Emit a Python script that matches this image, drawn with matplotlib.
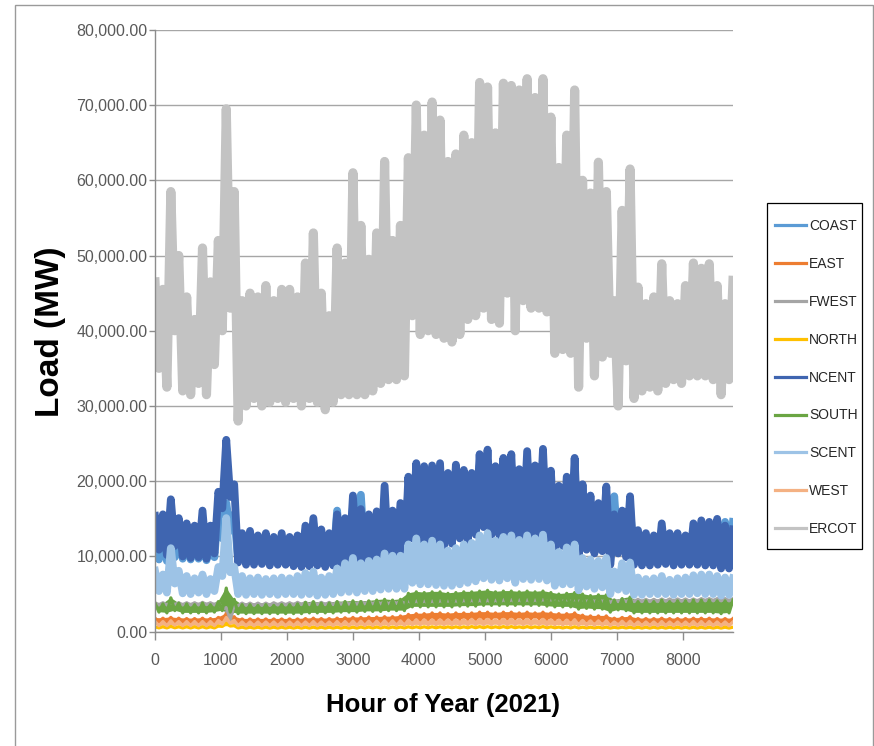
import numpy as np
import matplotlib
matplotlib.use("Agg")
import matplotlib.pyplot as plt
from matplotlib.lines import Line2D
from matplotlib.patches import Rectangle
from matplotlib.ticker import FuncFormatter

# Hourly zone loads are drawn as an envelope trace: daily peaks on the
# 120 h marks, overnight troughs halfway between.  Values in 1000 MW.
peak_hours = np.arange(0, 8761, 120)
trough_hours = np.arange(60, 8701, 120)

zones = ["COAST", "EAST", "FWEST", "NORTH", "NCENT", "SOUTH", "SCENT", "WEST", "ERCOT"]

coast_peaks = [14.1, 14.6, 16.1, 13.6, 13.1, 12.6, 14.6, 13.1, 16.6, 17.1,
               15.6, 12.1, 12.4, 12.0, 12.1, 11.8, 12.1, 12.0, 11.9, 13.1,
               14.4, 12.6, 12.4, 16.1, 14.6, 16.6, 18.2, 14.6, 15.1, 17.6,
               15.1, 16.1, 19.1, 20.6, 20.6, 20.6, 21.1, 19.6, 20.6, 20.1,
               19.6, 22.1, 22.6, 20.6, 21.6, 22.1, 20.1, 22.6, 20.6, 22.6,
               20.1, 18.1, 19.1, 21.1, 18.4, 16.6, 16.1, 18.1, 18.0, 15.1,
               16.6, 12.6, 12.1, 12.0, 13.4, 12.4, 12.4, 12.1, 13.6, 14.1,
               14.1, 14.6, 14.6, 14.6]
coast_troughs = [9.6, 9.4, 9.9, 9.7, 9.6, 9.7, 9.5, 9.9, 12.4, 13.4,
                 9.4, 9.3, 9.3, 9.4, 9.2, 9.3, 9.0, 9.1, 9.0, 9.1,
                 9.2, 9.0, 9.2, 9.4, 9.4, 9.3, 9.5, 9.4, 9.6, 9.6,
                 9.7, 9.6, 12.6, 12.3, 12.3, 12.1, 11.8, 12.1, 12.8, 12.4,
                 13.3, 14.3, 13.3, 13.2, 13.6, 12.3, 13.2, 13.0, 13.4, 12.3,
                 11.3, 11.8, 12.1, 10.3, 11.3, 10.8, 11.1, 9.3, 10.8, 10.3,
                 9.3, 9.2, 9.2, 9.3, 9.4, 9.2, 9.3, 9.3, 9.3, 9.2,
                 9.2, 8.8, 8.8]

east_peaks = [1.8, 1.8, 1.9, 1.8, 1.75, 1.75, 1.8, 1.75, 1.9, 2.4,
              2.0, 1.7, 1.7, 1.7, 1.7, 1.7, 1.7, 1.7, 1.7, 1.75,
              1.8, 1.75, 1.75, 1.8, 1.85, 1.9, 1.9, 1.95, 1.95, 2.0,
              2.0, 2.1, 2.3, 2.4, 2.4, 2.5, 2.5, 2.4, 2.5, 2.5,
              2.5, 2.6, 2.6, 2.5, 2.6, 2.6, 2.5, 2.6, 2.5, 2.6,
              2.5, 2.4, 2.4, 2.5, 2.2, 2.1, 2.1, 2.1, 1.8, 1.9,
              2.0, 1.75, 1.75, 1.75, 1.8, 1.75, 1.75, 1.75, 1.8, 1.8,
              1.8, 1.75, 1.75, 1.75]
east_troughs = [1.3, 1.3, 1.35, 1.3, 1.3, 1.3, 1.3, 1.3, 1.6, 1.7,
                1.25, 1.25, 1.25, 1.25, 1.25, 1.25, 1.25, 1.25, 1.25, 1.25,
                1.25, 1.25, 1.25, 1.3, 1.3, 1.3, 1.3, 1.3, 1.35, 1.35,
                1.35, 1.4, 1.6, 1.6, 1.65, 1.65, 1.65, 1.65, 1.7, 1.7,
                1.7, 1.75, 1.75, 1.75, 1.75, 1.75, 1.75, 1.75, 1.75, 1.7,
                1.65, 1.6, 1.6, 1.5, 1.5, 1.45, 1.45, 1.3, 1.4, 1.4,
                1.3, 1.3, 1.3, 1.3, 1.3, 1.3, 1.3, 1.3, 1.3, 1.3,
                1.3, 1.3, 1.3]

fwest_peaks = [3.85, 3.85, 3.9, 3.85, 3.85, 3.85, 3.9, 3.85, 3.9, 3.2,
               3.5, 3.8, 3.8, 3.8, 3.8, 3.85, 3.85, 3.85, 3.9, 3.9,
               3.9, 3.9, 3.9, 3.95, 3.95, 3.95, 4.0, 4.0, 4.0, 4.0,
               4.05, 4.05, 4.1, 4.1, 4.1, 4.1, 4.15, 4.15, 4.15, 4.2,
               4.2, 4.2, 4.2, 4.2, 4.25, 4.25, 4.25, 4.25, 4.25, 4.3,
               4.3, 4.3, 4.3, 4.3, 4.3, 4.3, 4.3, 4.3, 4.2, 4.3,
               4.3, 4.3, 4.3, 4.3, 4.35, 4.35, 4.35, 4.35, 4.35, 4.4,
               4.4, 4.4, 4.4, 4.4]
fwest_troughs = [3.55, 3.55, 3.6, 3.55, 3.55, 3.55, 3.6, 3.55, 3.0, 1.6,
                 3.45, 3.5, 3.5, 3.5, 3.5, 3.55, 3.55, 3.55, 3.6, 3.6,
                 3.6, 3.6, 3.6, 3.65, 3.65, 3.65, 3.7, 3.7, 3.7, 3.7,
                 3.75, 3.75, 3.8, 3.8, 3.8, 3.8, 3.85, 3.85, 3.85, 3.9,
                 3.9, 3.9, 3.9, 3.9, 3.95, 3.95, 3.95, 3.95, 3.95, 4.0,
                 4.0, 4.0, 4.0, 4.0, 4.0, 4.0, 4.0, 3.9, 4.0, 4.0,
                 4.0, 4.0, 4.0, 4.0, 4.05, 4.05, 4.05, 4.05, 4.05, 4.1,
                 4.1, 4.1, 4.1]

north_peaks = [0.65, 0.65, 0.7, 0.65, 0.65, 0.65, 0.65, 0.65, 0.75, 1.1,
               0.8, 0.6, 0.6, 0.6, 0.6, 0.6, 0.6, 0.6, 0.6, 0.6,
               0.6, 0.6, 0.6, 0.6, 0.6, 0.6, 0.62, 0.62, 0.62, 0.62,
               0.62, 0.62, 0.65, 0.65, 0.65, 0.65, 0.65, 0.65, 0.65, 0.65,
               0.68, 0.68, 0.68, 0.65, 0.68, 0.68, 0.65, 0.68, 0.65, 0.68,
               0.65, 0.62, 0.62, 0.65, 0.6, 0.6, 0.6, 0.6, 0.58, 0.6,
               0.6, 0.6, 0.6, 0.6, 0.6, 0.6, 0.6, 0.6, 0.6, 0.6,
               0.6, 0.6, 0.6, 0.6]
north_troughs = [0.5, 0.5, 0.52, 0.5, 0.5, 0.5, 0.5, 0.5, 0.7, 0.75,
                 0.5, 0.48, 0.48, 0.48, 0.48, 0.48, 0.48, 0.48, 0.48, 0.48,
                 0.48, 0.48, 0.48, 0.48, 0.48, 0.48, 0.5, 0.5, 0.5, 0.5,
                 0.5, 0.5, 0.52, 0.52, 0.52, 0.52, 0.52, 0.52, 0.52, 0.52,
                 0.53, 0.53, 0.53, 0.53, 0.53, 0.53, 0.53, 0.53, 0.53, 0.52,
                 0.52, 0.5, 0.5, 0.5, 0.5, 0.5, 0.5, 0.48, 0.5, 0.5,
                 0.48, 0.48, 0.48, 0.48, 0.48, 0.48, 0.48, 0.48, 0.48, 0.48,
                 0.48, 0.48, 0.48]

ncent_peaks = [15.4, 15.6, 17.6, 15.1, 14.4, 14.1, 16.1, 14.1, 18.6, 25.5,
               19.6, 13.1, 13.4, 12.8, 13.1, 12.6, 13.1, 12.6, 12.8, 14.1,
               15.1, 13.6, 13.1, 15.6, 15.1, 18.1, 16.3, 15.6, 16.0, 19.4,
               16.1, 17.1, 20.6, 22.4, 22.0, 22.1, 22.4, 21.1, 22.2, 21.5,
               21.1, 23.6, 24.2, 22.0, 23.1, 23.6, 21.6, 24.0, 22.1, 24.3,
               21.4, 19.4, 20.6, 23.1, 19.6, 18.1, 17.1, 19.3, 15.6, 16.1,
               18.0, 13.5, 13.1, 12.8, 14.4, 13.1, 13.1, 12.8, 14.4, 14.8,
               14.6, 15.0, 14.1, 13.6]
ncent_troughs = [10.9, 10.2, 11.4, 10.0, 9.8, 9.9, 9.7, 10.4, 16.4, 17.9,
                 9.2, 8.9, 8.9, 9.0, 8.8, 8.9, 8.9, 8.7, 8.6, 8.7,
                 8.8, 8.6, 8.8, 9.0, 9.0, 8.9, 9.1, 9.0, 9.2, 9.2,
                 9.3, 9.2, 12.4, 11.9, 11.9, 11.7, 11.4, 11.7, 12.4, 12.0,
                 12.9, 13.9, 12.9, 12.8, 13.2, 11.9, 12.8, 12.6, 13.0, 11.9,
                 10.9, 11.4, 11.7, 9.9, 10.9, 10.4, 10.7, 8.9, 10.4, 9.9,
                 8.9, 8.8, 8.8, 8.9, 9.0, 8.8, 8.9, 8.9, 8.9, 8.8,
                 8.8, 8.4, 8.4]

south_peaks = [3.8, 3.7, 4.5, 3.8, 3.7, 3.6, 3.8, 3.6, 4.0, 5.8,
               4.3, 3.6, 3.6, 3.5, 3.6, 3.5, 3.6, 3.6, 3.7, 3.9,
               4.0, 3.8, 3.8, 4.0, 4.0, 4.1, 4.0, 4.1, 4.2, 4.3,
               4.2, 4.3, 5.1, 5.3, 5.2, 5.3, 5.3, 5.1, 5.2, 5.3,
               5.3, 5.4, 5.5, 5.3, 5.4, 5.4, 5.3, 5.4, 5.3, 5.4,
               5.2, 5.0, 5.1, 5.2, 5.0, 4.8, 4.9, 4.9, 4.2, 4.4,
               4.6, 4.0, 4.1, 4.0, 4.2, 4.0, 4.1, 4.1, 4.2, 4.2,
               4.2, 4.1, 4.1, 4.2]
south_troughs = [2.6, 2.5, 2.8, 2.5, 2.5, 2.5, 2.5, 2.6, 2.8, 2.6,
                 2.4, 2.4, 2.4, 2.4, 2.4, 2.4, 2.4, 2.4, 2.4, 2.5,
                 2.5, 2.5, 2.5, 2.6, 2.6, 2.6, 2.7, 2.7, 2.7, 2.8,
                 2.8, 2.8, 3.3, 3.3, 3.3, 3.3, 3.3, 3.3, 3.4, 3.4,
                 3.4, 3.5, 3.5, 3.5, 3.5, 3.5, 3.5, 3.5, 3.5, 3.4,
                 3.3, 3.3, 3.3, 3.0, 3.1, 3.0, 3.0, 2.6, 2.9, 2.8,
                 2.5, 2.5, 2.5, 2.5, 2.5, 2.5, 2.5, 2.5, 2.5, 2.5,
                 2.5, 2.4, 2.5]

scent_peaks = [8.1, 7.6, 11.1, 8.1, 7.4, 7.1, 7.6, 7.0, 8.6, 15.1,
               8.6, 7.4, 7.1, 7.2, 7.0, 7.1, 7.2, 7.1, 7.4, 7.8,
               8.0, 7.2, 7.4, 8.4, 9.1, 9.8, 9.1, 9.4, 9.6, 10.4,
               10.1, 10.1, 11.6, 12.4, 11.6, 12.1, 11.6, 10.8, 11.1, 11.6,
               11.8, 12.8, 13.1, 12.1, 12.6, 12.8, 12.2, 12.8, 12.4, 12.9,
               11.6, 10.6, 11.2, 11.6, 9.8, 9.6, 9.4, 9.8, 8.0, 9.1,
               9.2, 7.2, 7.0, 7.1, 7.4, 6.9, 7.1, 7.2, 7.5, 7.6,
               7.6, 7.4, 7.2, 7.1]
scent_troughs = [5.4, 5.2, 6.4, 5.1, 5.0, 5.2, 5.0, 5.4, 7.4, 7.9,
                 5.0, 4.9, 5.0, 4.9, 5.0, 4.9, 5.0, 5.0, 4.9, 5.0,
                 4.8, 4.9, 5.0, 5.2, 5.3, 5.2, 5.4, 5.4, 5.6, 5.7,
                 5.7, 5.7, 6.5, 6.3, 6.3, 6.2, 6.1, 6.1, 6.3, 6.5,
                 6.7, 7.1, 6.9, 6.8, 7.1, 6.5, 7.0, 6.9, 7.0, 6.8,
                 6.1, 6.3, 6.3, 5.5, 6.0, 5.7, 5.9, 5.0, 5.6, 5.4,
                 4.9, 4.9, 5.0, 5.0, 5.0, 4.9, 5.0, 5.0, 5.1, 5.0,
                 5.0, 4.8, 4.9]

west_peaks = [1.35, 1.35, 1.45, 1.35, 1.35, 1.35, 1.35, 1.35, 1.5, 1.9,
              1.5, 1.3, 1.3, 1.3, 1.3, 1.3, 1.3, 1.3, 1.3, 1.3,
              1.35, 1.3, 1.3, 1.35, 1.35, 1.4, 1.4, 1.4, 1.4, 1.45,
              1.45, 1.45, 1.55, 1.6, 1.6, 1.6, 1.6, 1.6, 1.6, 1.6,
              1.65, 1.65, 1.65, 1.6, 1.65, 1.65, 1.6, 1.65, 1.6, 1.65,
              1.6, 1.55, 1.55, 1.6, 1.5, 1.45, 1.45, 1.45, 1.3, 1.4,
              1.4, 1.3, 1.3, 1.3, 1.35, 1.3, 1.3, 1.3, 1.35, 1.35,
              1.35, 1.3, 1.3, 1.3]
west_troughs = [0.8, 0.8, 0.85, 0.8, 0.8, 0.8, 0.8, 0.8, 1.0, 1.1,
                0.8, 0.78, 0.78, 0.78, 0.78, 0.78, 0.78, 0.78, 0.78, 0.8,
                0.8, 0.8, 0.8, 0.8, 0.8, 0.82, 0.82, 0.82, 0.82, 0.85,
                0.85, 0.85, 0.9, 0.9, 0.9, 0.9, 0.9, 0.9, 0.9, 0.92,
                0.92, 0.92, 0.92, 0.92, 0.92, 0.92, 0.92, 0.92, 0.92, 0.9,
                0.9, 0.88, 0.88, 0.85, 0.85, 0.85, 0.85, 0.8, 0.82, 0.82,
                0.8, 0.8, 0.8, 0.8, 0.8, 0.8, 0.8, 0.8, 0.8, 0.8,
                0.8, 0.78, 0.78]

ercot_peaks = [46.5, 45.5, 58.5, 50.0, 44.5, 41.5, 51.0, 46.5, 52.0, 69.5,
               58.5, 44.0, 45.0, 44.5, 46.0, 44.0, 45.5, 45.5, 44.5, 49.0,
               53.0, 45.0, 42.0, 51.0, 49.0, 61.0, 54.0, 49.5, 53.0, 62.5,
               52.0, 54.0, 63.0, 70.0, 66.0, 70.4, 68.0, 62.5, 63.5, 66.0,
               65.0, 73.0, 72.4, 66.3, 72.9, 72.6, 72.0, 73.5, 71.0, 73.5,
               68.4, 61.7, 66.0, 72.0, 60.0, 58.3, 62.4, 58.5, 44.0, 56.0,
               61.5, 45.8, 43.6, 44.5, 48.9, 44.0, 43.6, 46.0, 49.0, 48.3,
               48.9, 46.0, 43.6, 46.7]
ercot_troughs = [35.0, 32.5, 40.0, 32.0, 31.5, 33.0, 31.5, 35.5, 40.0, 43.0,
                 28.0, 30.0, 31.0, 30.0, 30.5, 31.0, 30.5, 31.0, 30.0, 31.0,
                 30.5, 29.5, 30.5, 31.5, 31.5, 31.5, 31.5, 32.0, 33.0, 33.5,
                 33.5, 34.0, 42.0, 39.5, 40.0, 39.5, 39.0, 38.5, 39.5, 41.5,
                 42.0, 43.0, 41.5, 41.0, 45.0, 40.0, 44.0, 43.0, 43.0, 42.5,
                 37.0, 37.5, 37.0, 32.5, 39.0, 34.0, 36.5, 37.0, 30.0, 36.0,
                 31.0, 32.0, 32.5, 32.0, 33.0, 33.5, 33.0, 34.0, 34.0, 34.0,
                 33.5, 31.5, 33.5]

# colour and trace width (pt) per zone
series = {
    "COAST": (coast_peaks, coast_troughs, "#5B9BD5", 5.6),
    "EAST": (east_peaks, east_troughs, "#ED7D31", 2.3),
    "FWEST": (fwest_peaks, fwest_troughs, "#A5A5A5", 2.3),
    "NORTH": (north_peaks, north_troughs, "#FFC000", 2.3),
    "NCENT": (ncent_peaks, ncent_troughs, "#3F65B0", 5.6),
    "SOUTH": (south_peaks, south_troughs, "#6AA543", 2.3),
    "SCENT": (scent_peaks, scent_troughs, "#9DC3E6", 5.6),
    "WEST": (west_peaks, west_troughs, "#F4B183", 2.3),
    "ERCOT": (ercot_peaks, ercot_troughs, "#C3C3C3", 6.6),
}


def trace(peaks, troughs):
    """Interleave peaks and troughs into one hour-ordered line."""
    x = np.empty(len(peak_hours) + len(trough_hours))
    y = np.empty_like(x)
    x[0::2], x[1::2] = peak_hours, trough_hours
    y[0::2], y[1::2] = peaks, troughs
    return x, y * 1000.0


def band(peaks, troughs):
    """Outline running along the peaks and back along the troughs."""
    x = np.concatenate([peak_hours, trough_hours[::-1]])
    y = np.concatenate([peaks, troughs[::-1]]) * 1000.0
    return x, y


sans = ["Liberation Sans", "DejaVu Sans"]
tick_grey = "#595959"
axis_grey = "#8C8C8C"

W, H = 874, 746
fig = plt.figure(figsize=(W / 100, H / 100), dpi=100)
fig.patch.set_facecolor("white")


def px_box(x0, y0, x1, y1, **kw):
    """Rectangle given in pixels from the top-left corner of the figure."""
    return Rectangle((x0 / W, 1 - y1 / H), (x1 - x0) / W, (y1 - y0) / H,
                     transform=fig.transFigure, fill=False, **kw)


# chart-area frame and legend frame
fig.add_artist(px_box(15, 5, 873, 760, edgecolor="#9A9A9A", linewidth=1.0))
fig.add_artist(px_box(767, 203, 862, 549, edgecolor="black", linewidth=0.9))

ax = fig.add_axes([155 / W, 1 - 631.7 / H, (733 - 155) / W, (631.7 - 29.8) / H])

handles = []
for name in zones:
    peaks, troughs, color, lw = series[name]
    x, y = trace(peaks, troughs)
    if lw < 3:
        # narrow zones: fill the daily swing so the band reads solid
        bx, by = band(np.asarray(peaks), np.asarray(troughs))
        ax.fill(bx, by, color=color, linewidth=0)
    ax.plot(x, y, color=color, linewidth=lw, solid_joinstyle="round")
    handles.append(Line2D([], [], color=color, linewidth=2.3, label=name))

ax.set_xlim(0, 8760)
ax.set_ylim(0, 80000)
ax.set_xticks(np.arange(0, 8001, 1000))
ax.set_yticks(np.arange(0, 80001, 10000))
ax.yaxis.set_major_formatter(FuncFormatter(lambda v, p: f"{v:,.2f}"))

ax.grid(axis="y", color="#A6A6A6", linewidth=1.0)
ax.set_axisbelow(True)
for side in ("top", "right"):
    ax.spines[side].set_visible(False)
for side in ("left", "bottom"):
    ax.spines[side].set_color(axis_grey)
    ax.spines[side].set_linewidth(1.0)

ax.tick_params(axis="both", direction="out", width=1.0,
               color=axis_grey, labelcolor=tick_grey, labelsize=11.5)
for lbl in ax.get_xticklabels() + ax.get_yticklabels():
    lbl.set_family(sans)
ax.tick_params(axis="y", length=4, pad=1.5)
ax.tick_params(axis="x", length=6, pad=9)

fig.text(50 / W, 1 - 332 / H, "Load (MW)", rotation=90, ha="center", va="center",
         fontsize=24, fontweight="bold", family=sans, color="black")
fig.text(443 / W, 1 - 705 / H, "Hour of Year (2021)", ha="center", va="center",
         fontsize=18.5, fontweight="bold", family=sans, color="black")

leg = fig.legend(handles=handles, loc="upper left", bbox_to_anchor=(775 / W, 1 - 219 / H),
                 frameon=False, prop={"family": sans, "size": 10},
                 handlelength=2.2, handletextpad=0.25, borderpad=0.0,
                 labelspacing=1.72, borderaxespad=0.0)
for t in leg.get_texts():
    t.set_color("#262626")

fig.savefig("out.png", dpi=100, facecolor="white")
